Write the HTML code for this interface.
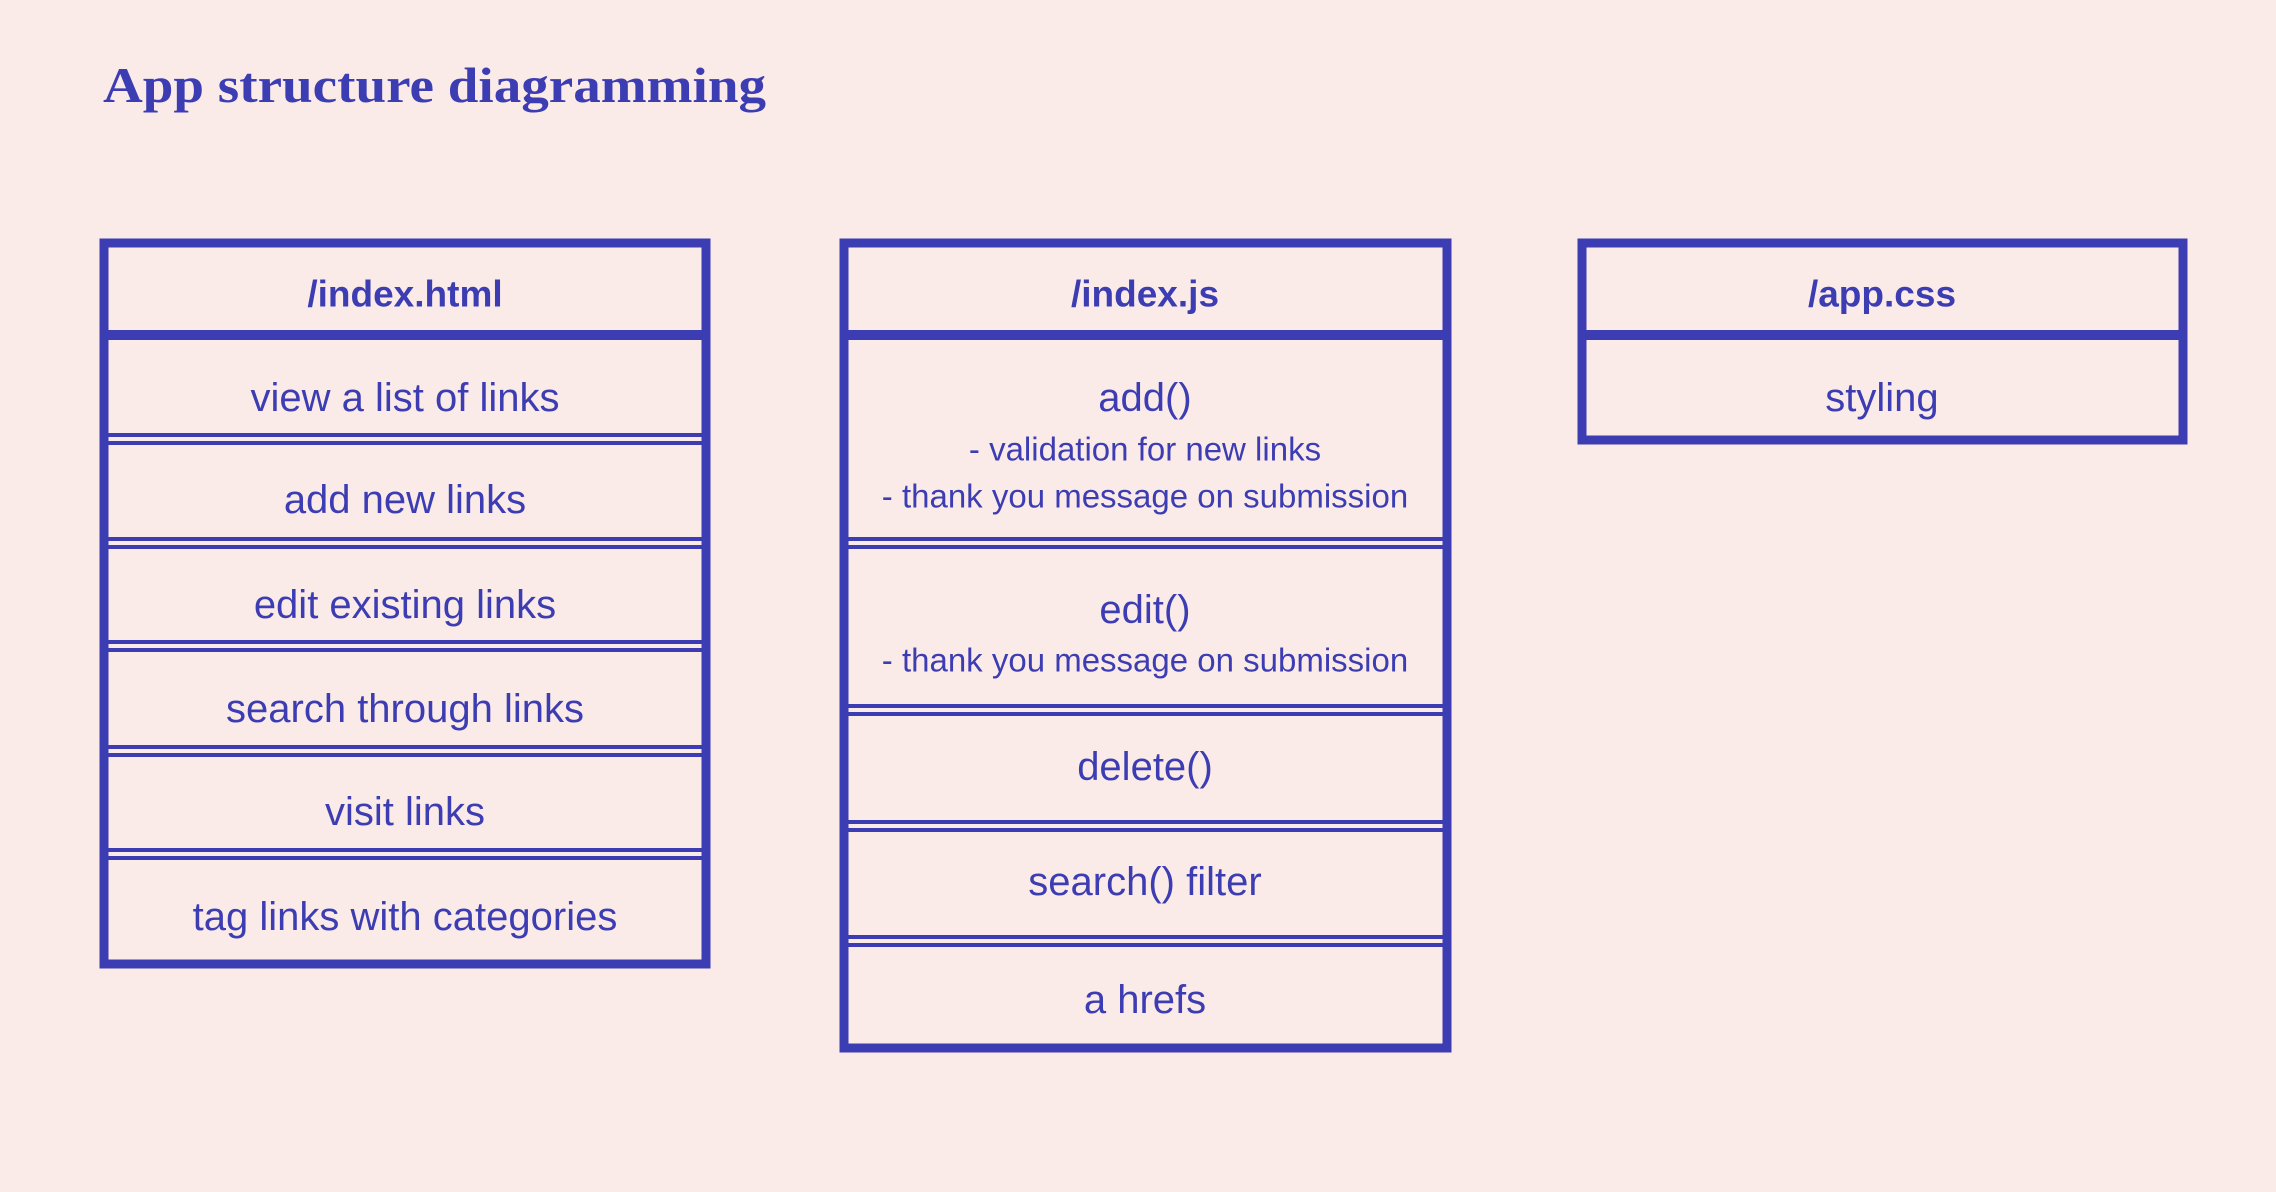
<!DOCTYPE html>
<html><head><meta charset="utf-8"><style>
html,body{margin:0;padding:0;background:#fbebe8;}
svg{display:block}
text{font-family:"Liberation Sans",sans-serif;fill:#3d3db3;text-anchor:middle;dominant-baseline:central}
</style></head><body>
<svg width="2276" height="1192" viewBox="0 0 2276 1192">
<rect width="2276" height="1192" fill="#fbebe8"/>
<text x="103" y="102" style="font-family:'Liberation Serif',serif;text-anchor:start;dominant-baseline:alphabetic;font-weight:bold" font-size="50" textLength="663" lengthAdjust="spacingAndGlyphs">App structure diagramming</text>
<g fill="none" stroke="#3d3db3">
<rect x="104" y="243" width="602" height="721" stroke-width="9"/>
<line x1="104" x2="706" y1="335" y2="335" stroke-width="10"/>
<g stroke-width="4">
<line x1="104" x2="706" y1="435" y2="435"/><line x1="104" x2="706" y1="443" y2="443"/>
<line x1="104" x2="706" y1="539" y2="539"/><line x1="104" x2="706" y1="547" y2="547"/>
<line x1="104" x2="706" y1="642" y2="642"/><line x1="104" x2="706" y1="650" y2="650"/>
<line x1="104" x2="706" y1="747" y2="747"/><line x1="104" x2="706" y1="755" y2="755"/>
<line x1="104" x2="706" y1="850" y2="850"/><line x1="104" x2="706" y1="858" y2="858"/>
</g>
<rect x="844" y="243" width="603" height="805" stroke-width="9"/>
<line x1="844" x2="1447" y1="335" y2="335" stroke-width="10"/>
<g stroke-width="4">
<line x1="844" x2="1447" y1="539" y2="539"/><line x1="844" x2="1447" y1="547" y2="547"/>
<line x1="844" x2="1447" y1="706" y2="706"/><line x1="844" x2="1447" y1="714" y2="714"/>
<line x1="844" x2="1447" y1="822" y2="822"/><line x1="844" x2="1447" y1="830" y2="830"/>
<line x1="844" x2="1447" y1="937" y2="937"/><line x1="844" x2="1447" y1="945" y2="945"/>
</g>
<rect x="1582" y="243" width="601" height="197" stroke-width="9"/>
<line x1="1582" x2="2183" y1="335" y2="335" stroke-width="10"/>
</g>
<g font-size="37">
<text x="405" y="294" font-weight="bold">/index.html</text>
<text x="1145" y="294" font-weight="bold">/index.js</text>
<text x="1882" y="294" font-weight="bold">/app.css</text>
</g>
<g font-size="40">
<text x="405" y="398">view a list of links</text>
<text x="405" y="500">add new links</text>
<text x="405" y="605">edit existing links</text>
<text x="405" y="709">search through links</text>
<text x="405" y="812">visit links</text>
<text x="405" y="917">tag links with categories</text>
<text x="1145" y="398">add()</text>
<text x="1145" y="610">edit()</text>
<text x="1145" y="767">delete()</text>
<text x="1145" y="882">search() filter</text>
<text x="1145" y="1000">a hrefs</text>
<text x="1882" y="398">styling</text>
</g>
<g font-size="33">
<text x="1145" y="449">- validation for new links</text>
<text x="1145" y="496">- thank you message on submission</text>
<text x="1145" y="660">- thank you message on submission</text>
</g>
</svg>
</body></html>
